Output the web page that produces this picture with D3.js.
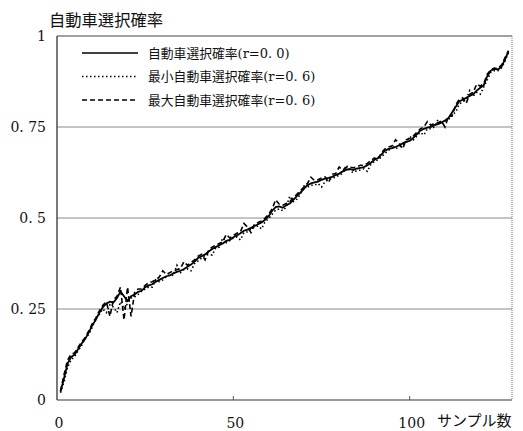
<!DOCTYPE html>
<html>
<head>
<meta charset="utf-8">
<script src="https://cdn.jsdelivr.net/npm/d3@7"></script>
<style>
body { margin: 0; background: #fff; }
text { fill: #111; }
.num { font-family: "DejaVu Serif", serif; font-size: 14px; }
.jp { font-family: "Noto Sans CJK JP", sans-serif; }
</style>
</head>
<body>
<div id="chart"></div>
<script>
// 自動車選択確率 (r=0.0)
const base = [0.023,0.06,0.10,0.118,0.125,0.14,0.155,0.168,0.185,0.205,0.22,0.24,0.255,0.265,0.27,0.268,0.28,0.298,0.285,0.272,
  0.285,0.29,0.297,0.30,0.31,0.315,0.318,0.325,0.33,0.335,0.34,0.342,0.348,0.352,0.355,0.36,0.366,0.372,0.38,0.39,
  0.395,0.40,0.408,0.415,0.42,0.425,0.43,0.437,0.44,0.447,0.452,0.458,0.465,0.468,0.473,0.478,0.483,0.488,0.495,0.505,
  0.52,0.53,0.532,0.528,0.535,0.54,0.55,0.56,0.57,0.58,0.59,0.595,0.598,0.60,0.605,0.608,0.61,0.613,0.618,0.622,
  0.628,0.632,0.635,0.632,0.636,0.638,0.64,0.645,0.652,0.66,0.665,0.675,0.685,0.69,0.692,0.695,0.70,0.705,0.71,0.712,
  0.72,0.73,0.74,0.745,0.748,0.75,0.755,0.758,0.762,0.768,0.775,0.79,0.805,0.82,0.825,0.83,0.835,0.84,0.85,0.858,
  0.865,0.89,0.905,0.91,0.908,0.915,0.935,0.958];
// 最小自動車選択確率 (r=0.6)
const minProb = [0.02,0.05,0.09,0.11,0.12,0.135,0.15,0.17,0.18,0.20,0.225,0.235,0.25,0.24,0.262,0.255,0.24,0.27,0.25,0.265,
  0.28,0.283,0.29,0.30,0.305,0.31,0.31,0.33,0.325,0.33,0.338,0.345,0.342,0.37,0.35,0.358,0.36,0.355,0.375,0.382,
  0.39,0.398,0.40,0.398,0.418,0.42,0.445,0.432,0.438,0.445,0.448,0.44,0.46,0.462,0.47,0.475,0.478,0.47,0.49,0.498,
  0.51,0.522,0.525,0.52,0.53,0.56,0.545,0.552,0.565,0.588,0.585,0.59,0.59,0.595,0.585,0.60,0.605,0.61,0.612,0.618,
  0.622,0.645,0.63,0.625,0.63,0.632,0.635,0.628,0.648,0.655,0.66,0.668,0.678,0.685,0.70,0.69,0.695,0.70,0.705,0.725,
  0.715,0.725,0.735,0.728,0.745,0.745,0.75,0.77,0.758,0.765,0.77,0.785,0.79,0.812,0.82,0.825,0.85,0.835,0.845,0.84,
  0.86,0.88,0.90,0.905,0.905,0.912,0.93,0.955];
// 最大自動車選択確率 (r=0.6)
const maxProb = [0.025,0.07,0.11,0.125,0.13,0.145,0.16,0.172,0.19,0.21,0.225,0.245,0.26,0.27,0.23,0.275,0.285,0.31,0.22,0.31,
  0.23,0.295,0.305,0.305,0.315,0.322,0.325,0.33,0.338,0.355,0.345,0.35,0.355,0.358,0.362,0.38,0.37,0.378,0.385,0.395,
  0.40,0.385,0.412,0.42,0.425,0.43,0.435,0.455,0.445,0.452,0.458,0.462,0.485,0.475,0.46,0.483,0.488,0.492,0.50,0.51,
  0.525,0.55,0.538,0.535,0.54,0.545,0.555,0.565,0.575,0.585,0.595,0.612,0.603,0.605,0.61,0.613,0.598,0.62,0.622,0.64,
  0.632,0.638,0.64,0.638,0.64,0.645,0.645,0.65,0.658,0.665,0.66,0.68,0.69,0.695,0.698,0.715,0.705,0.69,0.715,0.718,
  0.725,0.735,0.745,0.75,0.765,0.755,0.76,0.762,0.766,0.75,0.78,0.78,0.81,0.825,0.83,0.815,0.84,0.845,0.868,0.862,
  0.87,0.895,0.908,0.912,0.91,0.92,0.94,0.96];

const yTicks = [0, 0.25, 0.5, 0.75, 1];
const yTickLabels = ['0', '0. 25', '0. 5', '0. 75', '1'];
const xTicks = [0, 50, 100];
const legendLabels = ['自動車選択確率(r=0. 0)', '最小自動車選択確率(r=0. 6)', '最大自動車選択確率(r=0. 6)'];

const width = 523, height = 431;
const plotLeft = 57, plotRight = 512, plotTop = 36, plotBottom = 400;

const svg = d3.select('#chart').append('svg')
  .attr('width', width)
  .attr('height', height);

const x = d3.scaleLinear().domain([0, 129]).range([plotLeft, plotRight]);
const y = d3.scaleLinear().domain([0, 1]).range([plotBottom, plotTop]);

// gridlines
svg.append('g')
  .selectAll('line')
  .data(yTicks.filter(d => d > 0 && d < 1))
  .enter().append('line')
  .attr('x1', plotLeft).attr('x2', plotRight)
  .attr('y1', d => y(d)).attr('y2', d => y(d))
  .attr('stroke', '#8a8a8a').attr('stroke-width', 1.2);

// frame
svg.append('line').attr('x1', plotLeft).attr('x2', plotRight).attr('y1', plotTop).attr('y2', plotTop)
  .attr('stroke', '#444').attr('stroke-width', 1.2);
svg.append('line').attr('x1', plotRight).attr('x2', plotRight).attr('y1', plotTop).attr('y2', plotBottom)
  .attr('stroke', '#777').attr('stroke-width', 1).attr('stroke-dasharray', '1,1');
svg.append('line').attr('x1', plotLeft).attr('x2', plotRight).attr('y1', plotBottom).attr('y2', plotBottom)
  .attr('stroke', '#777').attr('stroke-width', 1.3);
svg.append('line').attr('x1', plotLeft).attr('x2', plotLeft).attr('y1', plotTop).attr('y2', plotBottom)
  .attr('stroke', '#333').attr('stroke-width', 1.3);

// x ticks
svg.append('g').selectAll('line')
  .data(xTicks.filter(d => d > 0))
  .enter().append('line')
  .attr('x1', d => x(d)).attr('x2', d => x(d))
  .attr('y1', plotBottom - 4).attr('y2', plotBottom)
  .attr('stroke', '#555');

// y labels
svg.append('g').selectAll('text')
  .data(yTicks)
  .enter().append('text')
  .attr('class', 'num')
  .attr('x', 46)
  .attr('y', d => y(d) + 5)
  .attr('text-anchor', 'end')
  .text((d, i) => yTickLabels[i]);

// x labels
svg.append('g').selectAll('text')
  .data(xTicks)
  .enter().append('text')
  .attr('class', 'num')
  .attr('x', d => x(d) + 2)
  .attr('y', 428)
  .attr('text-anchor', 'middle')
  .text(d => d);

svg.append('text').attr('class', 'jp')
  .attr('x', 437).attr('y', 426)
  .attr('font-size', 15)
  .text('サンプル数');

svg.append('text').attr('class', 'jp')
  .attr('x', 49).attr('y', 26)
  .attr('font-size', 16.3)
  .text('自動車選択確率');

// series
const series = [
  {values: base, dash: null, width: 1.8},
  {values: minProb, dash: '1.5,2.5', width: 1.6},
  {values: maxProb, dash: '5,3', width: 1.6},
];

const line = d3.line()
  .x((d, i) => x(i + 1))
  .y(d => y(d));

svg.append('g').selectAll('path')
  .data(series)
  .enter().append('path')
  .attr('d', d => line(d.values))
  .attr('fill', 'none')
  .attr('stroke', '#000')
  .attr('stroke-width', d => d.width)
  .attr('stroke-dasharray', d => d.dash);

// legend
const legend = svg.append('g').selectAll('g')
  .data(series)
  .enter().append('g')
  .attr('transform', (d, i) => `translate(82,${53 + i * 23.5})`);

legend.append('line')
  .attr('x1', 0).attr('x2', 56)
  .attr('stroke', '#000')
  .attr('stroke-width', 1.4)
  .attr('stroke-dasharray', d => d.dash);

const legendText = legend.append('text')
  .attr('x', 66)
  .attr('y', 4.5)
  .attr('font-size', 12.8);

legendText.append('tspan')
  .attr('class', 'jp')
  .text((d, i) => legendLabels[i].split('(')[0]);

legendText.append('tspan')
  .attr('font-family', '"DejaVu Serif", serif')
  .attr('font-size', 13)
  .text((d, i) => '(' + legendLabels[i].split('(')[1]);
</script>
</body>
</html>
